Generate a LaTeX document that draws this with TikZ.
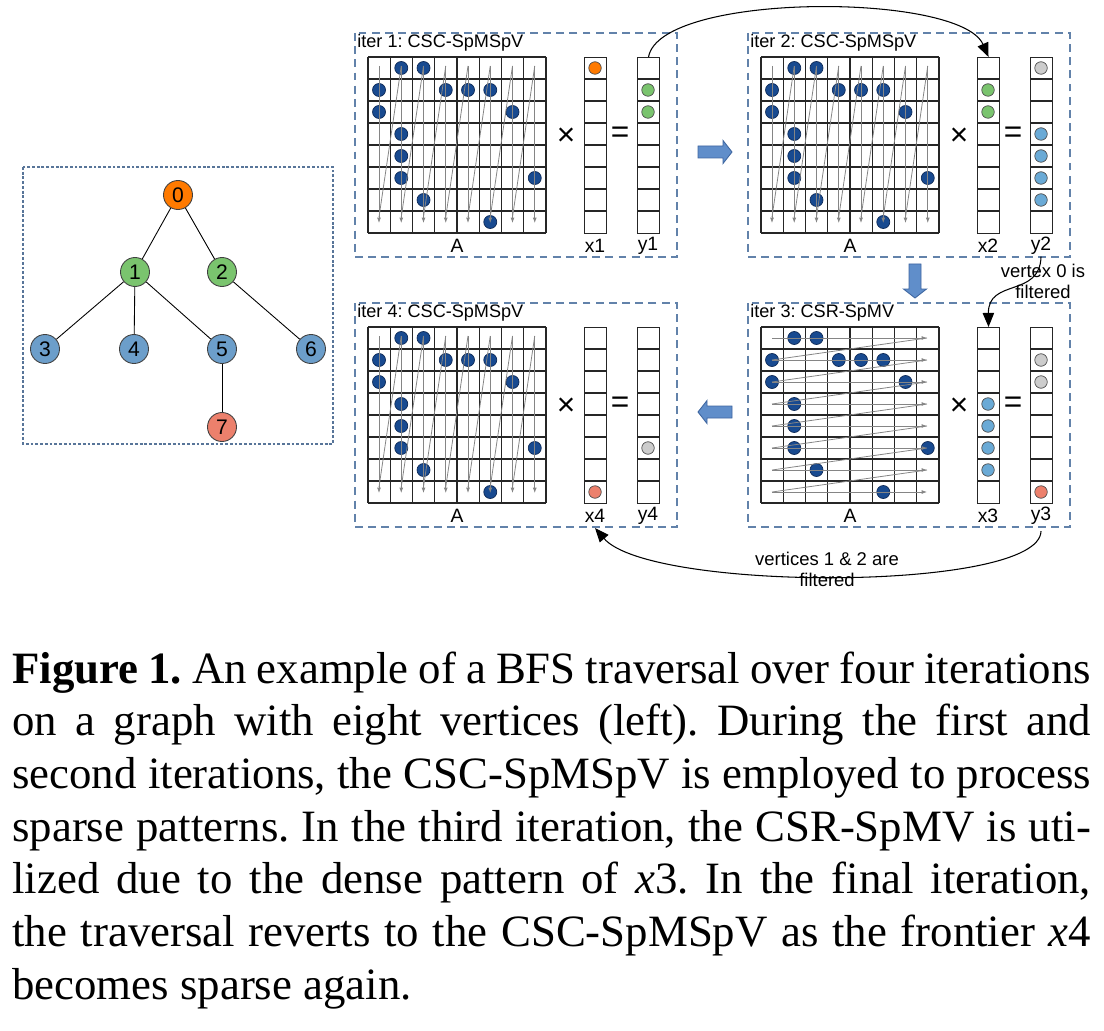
\documentclass[tikz,border=0pt]{standalone}
\usepackage{fontspec}
\setmainfont{Liberation Serif}
\setsansfont{Liberation Sans}
\usetikzlibrary{arrows.meta,positioning}
\frenchspacing

\definecolor{matblue}{RGB}{24,74,144}
\definecolor{matedge}{RGB}{14,42,88}
\definecolor{vorange}{RGB}{255,122,0}
\definecolor{vgreen}{RGB}{122,196,110}
\definecolor{vblue}{RGB}{106,170,214}
\definecolor{gblue}{RGB}{108,158,202}
\definecolor{vsalmon}{RGB}{236,128,108}
\definecolor{vgray}{RGB}{204,204,204}
\definecolor{dashblue}{RGB}{98,130,170}
\definecolor{bigarrow}{RGB}{96,142,202}
\definecolor{bigarrowline}{RGB}{62,102,160}

\tikzset{
  panel/.style={draw=dashblue,line width=0.8pt,dash pattern=on 4.5pt off 3pt},
  gbox/.style={draw=dashblue!90!black,line width=0.7pt,dash pattern=on 1.6pt off 1.1pt},
  cell/.style={line width=0.6pt,black!85},
  scan/.style={draw=black!48,line width=0.45pt},
  scanarrow/.style={scan,-{Latex[length=3pt,width=2.2pt]}},
  mdot/.style={draw=matedge,fill=matblue,line width=0.4pt},
  vdot/.style={draw=black!70,line width=0.4pt},
  vecbox/.style={draw,line width=0.6pt,black!85,minimum width=0.44cm,minimum height=3.52cm,inner sep=0pt},
  ititle/.style={font=\sffamily\fontsize{10.3}{12}\selectfont,anchor=west,inner sep=0pt},
  lbl/.style={font=\sffamily\fontsize{11}{13}\selectfont,inner sep=0pt},
  op/.style={font=\sffamily\fontsize{18}{18}\selectfont,inner sep=0pt},
  vert/.style={circle,draw=black!75,line width=0.5pt,minimum size=0.58cm,inner sep=0pt,font=\sffamily\fontsize{12}{14}\selectfont},
  tree/.style={line width=0.5pt},
  jump/.style={line width=0.6pt,-{Triangle[length=8pt,width=6.5pt]}},
  note/.style={font=\sffamily\fontsize{10.5}{12}\selectfont,align=center,inner sep=0pt},
  blockarrow/.style={draw=bigarrowline,fill=bigarrow,line width=0.5pt},
  caption/.style={font=\fontsize{25.5}{30}\selectfont,text width=614pt,align=justify,inner sep=0pt},
  bluearrow/.pic={\draw[blockarrow] (-17,-6) -- (8,-6) -- (8,-11.5) -- (17,0) -- (8,11.5) -- (8,6) -- (-17,6) -- cycle;}
}

% one iteration: box, matrix A, the two vectors and their labels
\newcommand{\iterpanel}[4]{% #1 number, #2 title, #3 x name, #4 y name
  \draw[panel] (-13,-24) rectangle (309,200);
  \node[ititle] (t#1) at (-11,-14) {#2};
  \foreach \r/\c in {0/1,0/2,1/0,1/3,1/4,1/5,2/0,2/6,3/1,4/1,5/1,5/7,6/2,7/5}
    \draw[mdot] (\c*22.25+11,\r*22+11) circle[radius=0.13cm];
  \foreach \i in {0,...,8}{
    \draw[cell] (\i*22.25,0) -- (\i*22.25,176);
    \draw[cell] (0,\i*22) -- (178,\i*22);
  }
  \node[vecbox,anchor=north west] (#3) at (216,0) {};
  \node[vecbox,anchor=north west] (#4) at (269,0) {};
  \foreach \i in {1,...,7}{
    \draw[cell] (216,\i*22) -- (238,\i*22);
    \draw[cell] (269,\i*22) -- (291,\i*22);
  }
  \node[op] (m#1) at (198,80) {×};
  \node[op] (e#1) at (252,78) {=};
  \node[lbl] (a#1) at (89,189) {A};
  \node[lbl] (l#3) at (227,189) {#3};
  \node[lbl] (l#4) at (280,189) {#4};
}
% column-wise scan (CSC)
\newcommand{\colscan}{%
  \foreach \c in {0,...,7}
    \draw[scanarrow] (\c*22.25+11,9) -- (\c*22.25+11,166);
  \foreach \c in {1,...,7}
    \draw[scan] (\c*22.25-11.25,160) -- (\c*22.25+11,9);
}
% row-wise scan (CSR)
\newcommand{\rowscan}{%
  \foreach \r in {0,...,7}
    \draw[scanarrow] (11,\r*22+11) -- (166,\r*22+11);
  \foreach \r in {1,...,7}
    \draw[scan] (11,\r*22+11) -- (166,\r*22-11);
}

\begin{document}
\begin{tikzpicture}[x=0.02cm,y=-0.02cm]
\useasboundingbox (0,0) rectangle (1104,1030);

% the graph
\draw[gbox] (23,167) rectangle (333,444);
\node[vert,fill=vorange] (v0) at (178,195) {0};
\node[vert,fill=vgreen] (v1) at (135,272) {1};
\node[vert,fill=vgreen] (v2) at (222,272) {2};
\node[vert,fill=gblue] (v3) at (45,349) {3};
\node[vert,fill=gblue] (v4) at (134,349) {4};
\node[vert,fill=gblue] (v5) at (222,349) {5};
\node[vert,fill=gblue] (v6) at (311,349) {6};
\node[vert,fill=vsalmon] (v7) at (222,427) {7};
\draw[tree] (v0) -- (v1);
\draw[tree] (v0) -- (v2);
\draw[tree] (v1) -- (v3);
\draw[tree] (v1) -- (v4);
\draw[tree] (v1) -- (v5);
\draw[tree] (v2) -- (v6);
\draw[tree] (v5) -- (v7);

% iteration 1
\begin{scope}[shift={(368,57)}]
  \iterpanel{1}{iter 1: CSC-SpMSpV}{x1}{y1}
  \colscan
  \draw[vdot,fill=vorange] (227,11) circle[radius=0.125cm];
  \foreach \r in {1,2}
    \draw[vdot,fill=vgreen] (280,\r*22+11) circle[radius=0.125cm];
\end{scope}

% iteration 2
\begin{scope}[shift={(761,57)}]
  \iterpanel{2}{iter 2: CSC-SpMSpV}{x2}{y2}
  \colscan
  \foreach \r in {1,2}
    \draw[vdot,fill=vgreen] (227,\r*22+11) circle[radius=0.125cm];
  \draw[vdot,fill=vgray] (280,11) circle[radius=0.125cm];
  \foreach \r in {3,...,6}
    \draw[vdot,fill=vblue] (280,\r*22+11) circle[radius=0.125cm];
\end{scope}

% iteration 3
\begin{scope}[shift={(761,327)}]
  \iterpanel{3}{iter 3: CSR-SpMV}{x3}{y3}
  \rowscan
  \foreach \r in {3,...,6}
    \draw[vdot,fill=vblue] (227,\r*22+11) circle[radius=0.125cm];
  \foreach \r in {1,2}
    \draw[vdot,fill=vgray] (280,\r*22+11) circle[radius=0.125cm];
  \draw[vdot,fill=vsalmon] (280,165) circle[radius=0.125cm];
\end{scope}

% iteration 4
\begin{scope}[shift={(368,327)}]
  \iterpanel{4}{iter 4: CSC-SpMSpV}{x4}{y4}
  \colscan
  \draw[vdot,fill=vsalmon] (227,165) circle[radius=0.125cm];
  \draw[vdot,fill=vgray] (280,121) circle[radius=0.125cm];
\end{scope}

% order of the iterations
\pic at (715,152) {bluearrow};
\pic[rotate=-90] at (915,281) {bluearrow};
\pic[rotate=180] at (715,412) {bluearrow};

% frontier hand-over
\draw[jump] (y1.north) .. controls (660,-8) and (960,-8) .. (x2.north);
\draw[jump] ([yshift=-0.03cm]ly2.south) .. controls (1040,298) and (988,278) .. (x3.north);
\draw[jump] ([yshift=-0.12cm]ly3.south) .. controls (1040,592) and (650,592) .. ([yshift=-0.1cm]lx4.south);
\node[note] (f0) at (1043,281) {vertex 0 is\\filtered};
\node[note] (f12) at (827,569) {vertices 1 \& 2 are\\filtered};

% caption
\node[caption,anchor=base west] (cap) at (12,683) {\textbf{Figure 1.} An example of a BFS traversal over four iterations\linebreak
on a graph with eight vertices (left). During the first and\linebreak
second iterations, the CSC-SpMSpV is employed to process\linebreak
sparse patterns. In the third iteration, the CSR-SpMV is uti-\linebreak
lized due to the dense pattern of \textit{x}3. In the final iteration,\linebreak
the traversal reverts to the CSC-SpMSpV as the frontier \textit{x}4\linebreak
becomes sparse again.};
\end{tikzpicture}
\end{document}
